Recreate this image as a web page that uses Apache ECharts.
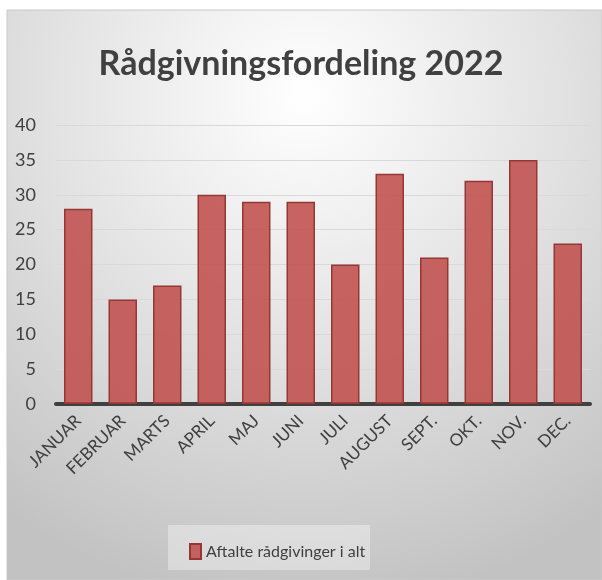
<!DOCTYPE html>
<html>
<head>
<meta charset="utf-8">
<script src="https://cdn.jsdelivr.net/npm/echarts@6/dist/echarts.min.js"></script>
<style>
html,body{margin:0;padding:0;background:#fff;}
#c{width:602px;height:580px;}
</style>
</head>
<body>
<div id="c"></div>
<script>
const titleText = "Rådgivningsfordeling 2022";
const categories = ["JANUAR","FEBRUAR","MARTS","APRIL","MAJ","JUNI","JULI","AUGUST","SEPT.","OKT.","NOV.","DEC."];
const seriesName = "Aftalte rådgivinger i alt";
const values = [28,15,17,30,29,29,20,33,21,32,35,23];

const chart = echarts.init(document.getElementById('c'), null, {renderer:'canvas'});
const font = 'Lato, "Open Sans", sans-serif';
chart.setOption({
  backgroundColor: '#ffffff',
  animation: false,
  graphic: [
    {type:'rect', z:-10, silent:true, shape:{x:7,y:10,width:595,height:570},
     style:{fill:new echarts.graphic.RadialGradient(0.5,0.15,0.9,[{offset:0,color:'#ffffff'},{offset:0.5,color:'#e2e2e2'},{offset:1,color:'#c2c2c2'}]), stroke:'#c8c8c8', lineWidth:1}},
    {type:'rect', z:-5, silent:true, shape:{x:168,y:525,width:202,height:45},
     style:{fill:'rgba(255,255,255,0.35)'}}
  ],
  title: {
    text: titleText, left: 'center', top: 42,
    textStyle: {fontFamily: font, fontWeight: 'bold', fontSize: 34, color: '#404040'}
  },
  legend: {
    data: [seriesName], left: 184, top: 538, itemWidth: 11, itemHeight: 15, itemGap: 3,
    textStyle: {fontFamily: font, fontSize: 16, color: '#404040'},
    icon: 'rect'
  },
  grid: {left: 56, right: 12, top: 125, bottom: 176, containLabel: false},
  xAxis: {
    type: 'category', data: categories,
    axisLine: {lineStyle: {color: '#404040', width: 4}},
    axisTick: {show: false},
    axisLabel: {rotate: 45, fontFamily: font, fontSize: 17, color: '#404040', margin: 14, interval: 0}
  },
  yAxis: {
    type: 'value', min: 0, max: 40, interval: 5,
    axisLine: {show: false}, axisTick: {show: false},
    axisLabel: {fontFamily: font, fontSize: 18, color: '#404040', margin: 20},
    splitLine: {lineStyle: {color: '#d9d9d9', width: 1}}
  },
  series: [{
    name: seriesName, type: 'bar', data: values, barCategoryGap: '36%',
    itemStyle: {color: 'rgba(192,80,77,0.88)', borderColor: '#953735', borderWidth: 1.5}
  }]
});
</script>
</body>
</html>
